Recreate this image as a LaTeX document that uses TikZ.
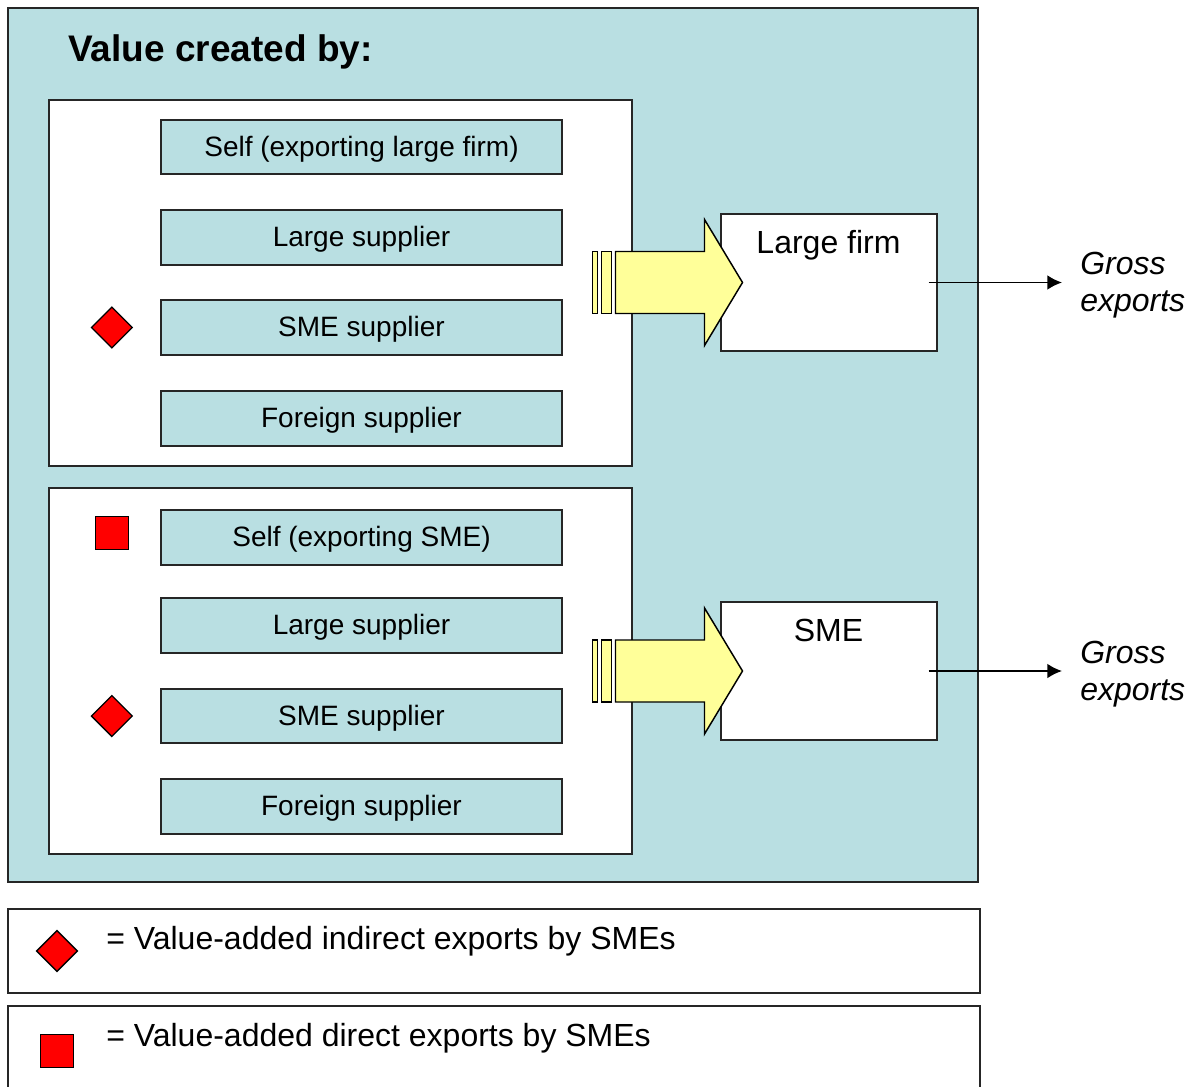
\documentclass[tikz,border=0pt]{standalone}
\usepackage{fontspec}
\setmainfont{Liberation Sans}
\usetikzlibrary{positioning,calc,shapes.geometric,arrows.meta}

\definecolor{valueteal}{RGB}{185,223,226}
\definecolor{arrowyellow}{RGB}{255,255,153}

\tikzset{
	supplierbox/.style={draw=black!85,line width=1.5pt,fill=valueteal,minimum width=301pt,minimum height=41pt,inner sep=0pt,text height=18pt,text depth=4.2pt,font=\fontsize{21}{25}\selectfont},
	groupbox/.style={draw=black!85,line width=1.5pt,fill=white},
	firmbox/.style={draw=black!85,line width=1.5pt,fill=white,minimum width=162pt,minimum height=103pt},
	markdiamond/.style={diamond,draw,line width=1pt,fill=red,minimum size=31pt,inner sep=0pt},
	marksquare/.style={rectangle,draw,line width=1pt,fill=red,minimum size=25pt,inner sep=0pt},
	fatarrow/.style={draw=black,line width=1.1pt,fill=arrowyellow},
	exportarrow/.style={line width=1.3pt,-{Latex[length=11pt,width=11pt]}},
	bigtext/.style={font=\fontsize{24}{28}\selectfont},
	grosstext/.style={font=\itshape\fontsize{24}{27.75}\selectfont,align=left,anchor=west,inner sep=0pt},
}

% fat arrow into a firm box
\newcommand{\fatarrowto}[1]{%
	\begin{scope}[shift={(#1.west)}]
		\filldraw[fatarrow] (-127,-31) rectangle (-122,31);
		\filldraw[fatarrow] (-118,-31) rectangle (-108,31);
		\filldraw[fatarrow] (-104,-31) -- (-15,-31) -- (-15,-63) -- (23,0) -- (-15,63) -- (-15,31) -- (-104,31) -- cycle;
	\end{scope}}

\begin{document}
\begin{tikzpicture}[x=0.75pt,y=-0.75pt]
	\useasboundingbox (0,0) rectangle (1191,1087);
	\fill[white] (0,0) rectangle (1191,1087);

	\begin{scope} % value panel
		\draw[line width=1.5pt,draw=black!85,fill=valueteal] (8,8) rectangle (978,882);
		\node[anchor=base west,inner sep=0pt,font=\bfseries\fontsize{27.75}{32}\selectfont] (title) at (68,62) {Value created by:};
		\draw[groupbox] (49,100) rectangle (632,466);
		\draw[groupbox] (49,488) rectangle (632,854);
	\end{scope}

	\begin{scope} % suppliers
		\foreach \i/\y/\txt in {1/147/Self (exporting large firm),2/237.5/Large supplier,3/327.5/SME supplier,4/418.5/Foreign supplier}
			\node[supplierbox] (up\i) at (361.5,\y) {\txt};
		\foreach \i/\y/\txt in {1/537.5/Self (exporting SME),2/625.5/Large supplier,3/716/SME supplier,4/806.5/Foreign supplier}
			\node[supplierbox] (lo\i) at (361.5,\y) {\txt};
		\node[markdiamond,left=20pt of up3] (dia1) {};
		\node[marksquare,left=23pt of lo1,yshift=3.4pt] (sq1) {};
		\node[markdiamond,left=20pt of lo3] (dia2) {};
	\end{scope}

	\begin{scope} % firms
		\node[firmbox] (lf) at (828.5,282.5) {};
		\node[bigtext,anchor=base] (lflabel) at ($(lf.north)+(0,41)$) {Large firm};
		\node[firmbox] (sme) at (828.5,671) {};
		\node[bigtext,anchor=base] (smelabel) at ($(sme.north)+(0,40)$) {SME};
		\fatarrowto{lf}
		\fatarrowto{sme}

		\node[grosstext] (ge1) at (1080,285.5) {Gross\\exports};
		\node[grosstext] (ge2) at (1080,674) {Gross\\exports};
		\draw[exportarrow,shorten >=13.5pt] ($(lf.east)+(-9,0)$) -- (ge1.west |- lf.east);
		\draw[exportarrow,shorten >=13.5pt] ($(sme.east)+(-9,0)$) -- (ge2.west |- sme.east);
	\end{scope}

	\begin{scope} % legend
		\draw[groupbox] (8,909) rectangle (980,993);
		\draw[groupbox] (8,1006) rectangle (980,1100);
		\node[markdiamond] (keydia) at (57,951) {};
		\node[marksquare] (keysq) at (57,1051) {};
		\node[bigtext,anchor=base west,inner sep=0pt] (keytxt1) at (106,949) {= Value-added indirect exports by SMEs};
		\node[bigtext,anchor=base west,inner sep=0pt] (keytxt2) at (106,1046) {= Value-added direct exports by SMEs};
	\end{scope}
\end{tikzpicture}
\end{document}
